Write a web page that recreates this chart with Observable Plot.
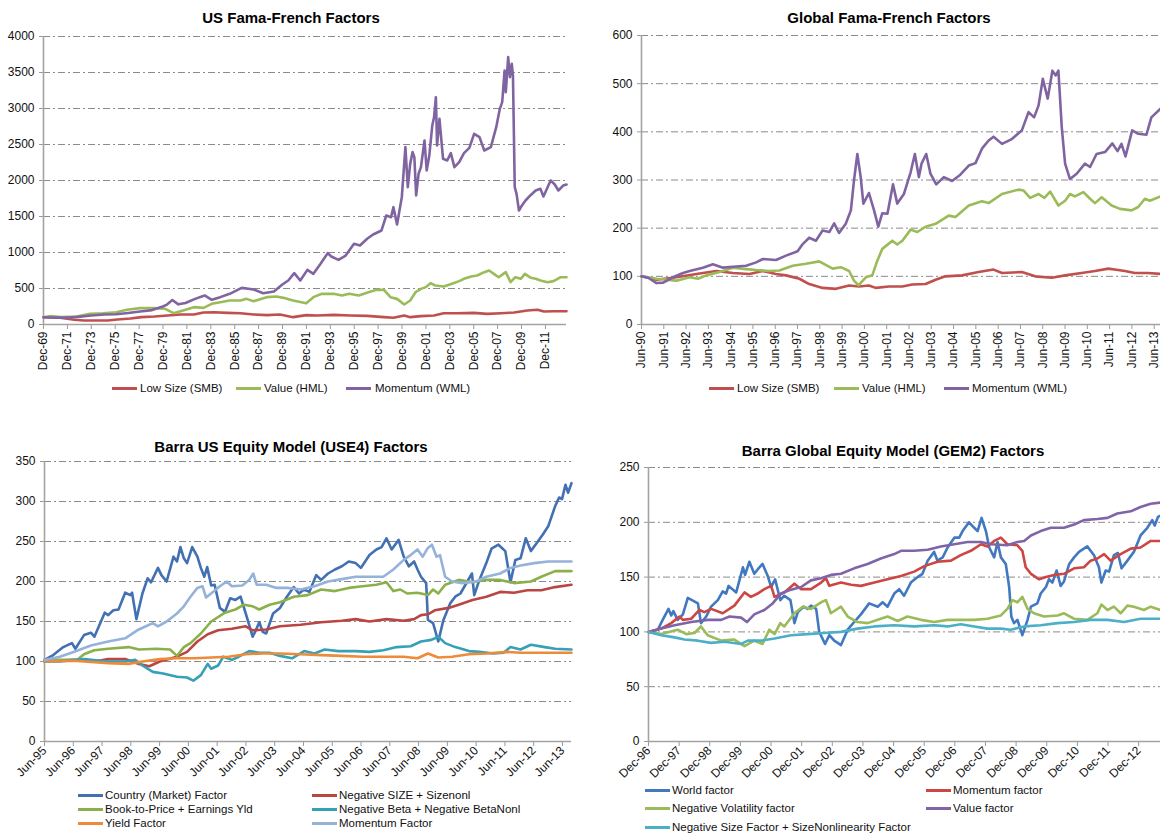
<!DOCTYPE html>
<html><head><meta charset="utf-8">
<script src="https://cdn.jsdelivr.net/npm/d3@7"></script>
<script src="https://cdn.jsdelivr.net/npm/@observablehq/plot@0.6"></script>
<style>
body{margin:0;background:#fff;font-family:"Liberation Sans",Arial,sans-serif;}
#root{position:relative;width:1160px;height:833px;overflow:hidden;background:#fff;}
.title{position:absolute;font-weight:bold;font-size:15px;color:#000;white-space:nowrap;transform:translate(-50%,-50%);}
.legtext{position:absolute;font-size:11.5px;line-height:14px;color:#111;white-space:nowrap;}
.sw{position:absolute;height:3px;}
.plot{position:absolute;}
</style></head><body><div id="root"></div>
<script>
// ---------------- DATA ----------------
// Panel 1: US Fama-French Factors  [decimal year, index]
const usTitle = "US Fama-French Factors";
const usYTicks = [0,500,1000,1500,2000,2500,3000,3500,4000];
const usXLabels = ["Dec-69","Dec-71","Dec-73","Dec-75","Dec-77","Dec-79","Dec-81","Dec-83","Dec-85","Dec-87","Dec-89","Dec-91","Dec-93","Dec-95","Dec-97","Dec-99","Dec-01","Dec-03","Dec-05","Dec-07","Dec-09","Dec-11"];
const usSeriesNames = ["Low Size (SMB)","Value (HML)","Momentum (WML)"];
const usSMB = [[1969.92,100],[1971.3,93],[1972.5,65],[1973.3,56],[1974.2,56],[1975.3,56],[1976.1,69],[1977.2,83],[1978.1,102],[1979.2,111],[1980.3,125],[1981.4,139],[1982.5,139],[1983.3,167],[1984.2,171],[1985.3,162],[1986.4,157],[1987.5,139],[1988.6,130],[1989.7,139],[1990.8,102],[1991.9,130],[1992.8,125],[1994.2,134],[1995.6,125],[1997.0,120],[1998.4,102],[1999.2,93],[2000.1,125],[2000.6,102],[2001.5,116],[2002.6,125],[2003.4,157],[2004.5,157],[2005.9,162],[2007.05,148],[2008.2,157],[2009.3,167],[2010.4,194],[2011.25,204],[2011.8,181],[2012.6,185],[2013.68,185]];
const usHML = [[1969.92,100],[1970.5,118],[1971.4,105],[1972.7,111],[1973.8,148],[1974.9,157],[1976.0,171],[1976.9,204],[1978.0,227],[1979.1,227],[1980.1,218],[1980.8,157],[1981.6,194],[1982.5,241],[1983.3,231],[1984.0,287],[1984.7,310],[1985.5,333],[1986.4,333],[1986.9,356],[1987.5,324],[1988.6,380],[1989.4,389],[1990.0,370],[1990.8,333],[1991.9,296],[1992.5,380],[1993.2,426],[1994.2,426],[1994.9,403],[1995.5,426],[1996.3,403],[1997.1,449],[1997.8,481],[1998.4,481],[1998.95,380],[1999.5,356],[2000.1,278],[2000.6,333],[2001.05,449],[2001.5,495],[2001.9,519],[2002.3,574],[2002.7,542],[2003.4,528],[2004.1,565],[2004.7,602],[2005.1,634],[2005.7,667],[2006.2,681],[2006.8,727],[2007.2,750],[2007.6,704],[2008.0,657],[2008.6,727],[2009.0,588],[2009.4,657],[2009.85,634],[2010.2,704],[2010.7,648],[2011.1,634],[2011.5,611],[2012.1,588],[2012.6,602],[2013.2,657],[2013.68,657]];
const usWML = [[1969.92,100],[1971.0,95],[1972.0,96],[1973.0,110],[1973.9,125],[1975.0,138],[1976.0,142],[1977.0,160],[1978.0,180],[1979.0,200],[1979.9,250],[1980.2,272],[1980.7,340],[1981.2,280],[1981.8,298],[1982.6,356],[1983.4,403],[1984.0,343],[1984.7,380],[1985.5,426],[1986.5,509],[1987.5,486],[1988.3,435],[1989.2,458],[1989.9,556],[1990.4,611],[1990.9,713],[1991.4,611],[1992.0,759],[1992.5,704],[1993.1,843],[1993.7,991],[1994.0,944],[1994.6,898],[1995.2,958],[1995.9,1120],[1996.4,1097],[1997.0,1190],[1997.5,1250],[1998.2,1306],[1998.6,1514],[1999.0,1491],[1999.2,1630],[1999.5,1389],[1999.9,1769],[2000.2,2463],[2000.4,1907],[2000.6,2231],[2000.8,2394],[2000.95,2324],[2001.1,1792],[2001.3,2093],[2001.5,2185],[2001.8,2556],[2001.98,2139],[2002.2,2347],[2002.45,2764],[2002.6,2880],[2002.75,3157],[2002.85,2486],[2003.05,2856],[2003.35,2301],[2003.7,2278],[2004.0,2380],[2004.3,2185],[2004.7,2255],[2005.1,2380],[2005.55,2454],[2005.95,2648],[2006.4,2602],[2006.8,2417],[2007.35,2463],[2007.8,2741],[2008.1,2995],[2008.3,3088],[2008.5,3528],[2008.6,3227],[2008.8,3713],[2008.95,3435],[2009.1,3620],[2009.2,3458],[2009.35,1907],[2009.5,1815],[2009.7,1583],[2009.95,1653],[2010.25,1722],[2010.65,1792],[2011.1,1861],[2011.5,1884],[2011.75,1778],[2012.1,1907],[2012.35,2000],[2012.7,1944],[2013.0,1861],[2013.4,1930],[2013.68,1944]];

// Panel 2: Global Fama-French Factors
const glTitle = "Global Fama-French Factors";
const glYTicks = [0,100,200,300,400,500,600];
const glXLabels = ["Jun-90","Jun-91","Jun-92","Jun-93","Jun-94","Jun-95","Jun-96","Jun-97","Jun-98","Jun-99","Jun-00","Jun-01","Jun-02","Jun-03","Jun-04","Jun-05","Jun-06","Jun-07","Jun-08","Jun-09","Jun-10","Jun-11","Jun-12","Jun-13"];
const glSeriesNames = ["Low Size (SMB)","Value (HML)","Momentum (WML)"];
const glSMB = [[1990.42,100],[1991.09,93],[1991.98,98],[1992.88,105],[1993.77,111],[1994.52,107],[1995.26,105],[1995.86,111],[1996.45,105],[1996.9,102],[1997.5,95],[1997.94,84],[1998.54,76],[1999.14,74],[1999.73,81],[2000.18,79],[2000.62,81],[2000.92,76],[2001.52,79],[2002.12,79],[2002.56,83],[2003.16,84],[2003.61,93],[2004.05,100],[2004.8,102],[2005.54,109],[2006.21,114],[2006.59,107],[2007.48,109],[2008.08,100],[2008.82,97],[2009.42,102],[2010.16,107],[2010.76,111],[2011.36,116],[2011.8,113],[2012.1,111],[2012.55,107],[2013.14,107],[2013.70,105]];
const glHML = [[1990.42,100],[1991.09,95],[1991.98,91],[1992.58,98],[1992.95,95],[1993.32,102],[1993.92,109],[1994.52,118],[1995.11,115],[1995.56,113],[1996.15,111],[1996.6,112],[1997.2,122],[1997.79,126],[1998.39,131],[1998.99,116],[1999.36,119],[1999.73,111],[1999.95,91],[2000.15,81],[2000.48,98],[2000.77,102],[2001.0,133],[2001.22,157],[2001.67,174],[2001.89,166],[2002.12,174],[2002.49,197],[2002.79,192],[2003.16,203],[2003.61,209],[2004.2,226],[2004.5,223],[2005.1,247],[2005.69,256],[2005.99,252],[2006.59,271],[2007.33,280],[2007.56,278],[2007.85,263],[2008.23,271],[2008.49,263],[2008.75,276],[2009.12,247],[2009.42,257],[2009.64,271],[2009.86,266],[2010.24,275],[2010.54,261],[2010.76,252],[2011.06,264],[2011.51,247],[2011.88,240],[2012.4,237],[2012.7,244],[2013.0,261],[2013.22,257],[2013.70,266]];
const glWML = [[1990.42,100],[1990.72,97],[1991.09,86],[1991.39,87],[1991.83,98],[1992.28,107],[1992.58,111],[1993.17,118],[1993.62,125],[1994.07,118],[1994.52,120],[1995.11,122],[1995.56,129],[1995.86,136],[1996.45,134],[1996.9,143],[1997.42,152],[1997.65,167],[1997.94,180],[1998.24,174],[1998.54,195],[1998.84,192],[1999.06,210],[1999.28,190],[1999.58,209],[1999.81,237],[1999.95,299],[2000.1,354],[2000.25,306],[2000.37,251],[2000.62,273],[2000.85,237],[2001.04,203],[2001.22,231],[2001.45,230],[2001.7,291],[2001.89,251],[2002.19,271],[2002.49,316],[2002.68,354],[2002.86,306],[2002.98,334],[2003.19,354],[2003.38,313],[2003.64,291],[2003.98,306],[2004.35,298],[2004.72,311],[2005.1,330],[2005.4,335],[2005.69,365],[2005.99,382],[2006.21,390],[2006.59,375],[2007.03,385],[2007.48,403],[2007.78,441],[2008.03,430],[2008.23,455],[2008.42,510],[2008.64,469],[2008.85,527],[2009.0,517],[2009.12,527],[2009.27,410],[2009.42,334],[2009.64,302],[2009.94,313],[2010.31,334],[2010.54,327],[2010.83,354],[2011.21,358],[2011.54,376],[2011.77,360],[2011.95,375],[2012.13,349],[2012.43,403],[2012.7,396],[2013.07,394],[2013.29,430],[2013.70,448]];

// Panel 3: Barra US Equity Model (USE4) Factors
const bUsTitle = "Barra US Equity Model (USE4) Factors";
const bUsYTicks = [0,50,100,150,200,250,300,350];
const bUsXLabels = ["Jun-95","Jun-96","Jun-97","Jun-98","Jun-99","Jun-00","Jun-01","Jun-02","Jun-03","Jun-04","Jun-05","Jun-06","Jun-07","Jun-08","Jun-09","Jun-10","Jun-11","Jun-12","Jun-13"];
const bUsSeriesNames = ["Country (Market) Factor","Negative SIZE + Sizenonl","Book-to-Price + Earnings Yld","Negative Beta + Negative  BetaNonl","Yield Factor","Momentum Factor"];
const bUsCountry = [[1995.42,102],[1995.72,108],[1996.07,118],[1996.37,123],[1996.49,116],[1996.79,133],[1997.03,136],[1997.15,131],[1997.51,161],[1997.63,158],[1997.81,164],[1997.99,165],[1998.22,186],[1998.40,183],[1998.46,186],[1998.61,153],[1998.82,185],[1999.0,204],[1999.12,199],[1999.36,217],[1999.48,208],[1999.66,200],[1999.90,231],[2000.02,225],[2000.14,243],[2000.26,229],[2000.37,223],[2000.55,243],[2000.73,231],[2000.85,217],[2000.97,206],[2001.07,218],[2001.21,195],[2001.33,196],[2001.51,167],[2001.69,162],[2001.87,179],[2002.05,177],[2002.23,181],[2002.41,160],[2002.65,131],[2002.76,139],[2002.88,149],[2003.0,137],[2003.12,135],[2003.36,160],[2003.60,167],[2003.84,181],[2004.08,193],[2004.26,185],[2004.44,190],[2004.62,187],[2004.86,208],[2005.03,202],[2005.27,210],[2005.51,215],[2005.75,219],[2005.99,225],[2006.23,223],[2006.41,217],[2006.71,233],[2006.95,240],[2007.13,243],[2007.30,254],[2007.48,240],[2007.72,252],[2007.90,231],[2008.08,219],[2008.26,225],[2008.38,215],[2008.50,206],[2008.68,198],[2008.74,152],[2008.92,148],[2009.10,125],[2009.28,152],[2009.52,173],[2009.69,181],[2009.87,185],[2010.11,200],[2010.27,210],[2010.35,183],[2010.53,202],[2010.77,223],[2010.95,241],[2011.19,246],[2011.43,238],[2011.61,199],[2011.78,227],[2011.96,229],[2012.14,254],[2012.32,238],[2012.56,250],[2012.74,259],[2012.92,269],[2013.16,294],[2013.30,305],[2013.40,303],[2013.52,321],[2013.61,311],[2013.73,323]];
const bUsSize = [[1995.42,100],[1996.43,102],[1997.15,100],[1997.63,103],[1998.22,103],[1998.70,97],[1999.06,94],[1999.42,100],[2000.02,106],[2000.37,112],[2000.73,125],[2001.09,134],[2001.45,139],[2001.93,141],[2002.41,144],[2002.65,139],[2003.12,140],[2003.60,144],[2004.32,146],[2005.03,149],[2005.75,151],[2006.23,153],[2006.71,150],[2007.30,153],[2007.90,151],[2008.26,153],[2008.50,158],[2008.74,159],[2008.98,164],[2009.46,167],[2009.81,171],[2010.29,177],[2010.77,181],[2011.25,187],[2011.73,186],[2012.20,189],[2012.68,189],[2013.16,193],[2013.73,196]];
const bUsValue = [[1995.42,102],[1995.95,102],[1996.55,102],[1996.79,109],[1997.15,114],[1997.63,116],[1998.34,118],[1998.70,115],[1999.30,116],[1999.78,115],[2000.02,107],[2000.26,118],[2000.49,123],[2000.85,135],[2001.21,150],[2001.69,161],[2002.05,165],[2002.35,171],[2002.65,169],[2002.88,165],[2003.24,171],[2003.60,174],[2004.08,181],[2004.56,183],[2005.03,190],[2005.51,188],[2005.99,192],[2006.47,194],[2006.95,196],[2007.30,199],[2007.54,188],[2007.78,190],[2008.02,185],[2008.38,186],[2008.74,183],[2008.92,190],[2009.10,185],[2009.34,196],[2009.81,202],[2010.29,199],[2010.77,202],[2011.25,202],[2011.73,198],[2012.32,200],[2012.68,206],[2013.16,213],[2013.73,213]];
const bUsBeta = [[1995.42,100],[1995.95,100],[1996.79,103],[1997.63,100],[1998.22,100],[1998.58,102],[1998.82,95],[1999.18,87],[1999.54,85],[2000.02,81],[2000.37,80],[2000.59,76],[2000.85,83],[2001.09,97],[2001.21,91],[2001.45,95],[2001.63,106],[2001.93,102],[2002.17,106],[2002.53,113],[2002.88,111],[2003.24,111],[2003.60,107],[2004.02,104],[2004.44,113],[2004.80,110],[2005.15,115],[2005.63,113],[2006.23,113],[2006.71,112],[2007.19,114],[2007.66,118],[2008.14,119],[2008.50,125],[2008.86,127],[2009.10,131],[2009.34,123],[2009.69,118],[2010.17,113],[2010.53,112],[2011.01,110],[2011.37,111],[2011.61,118],[2011.96,115],[2012.32,121],[2012.80,118],[2013.16,116],[2013.73,115]];
const bUsYield = [[1995.42,100],[1996.43,101],[1997.63,98],[1998.34,97],[1998.82,100],[1999.42,103],[2000.02,104],[2000.61,104],[2001.21,105],[2001.81,106],[2002.41,109],[2003.0,110],[2003.60,110],[2004.32,109],[2005.03,108],[2005.75,107],[2006.47,106],[2007.19,106],[2007.90,106],[2008.38,104],[2008.74,110],[2009.10,105],[2009.58,106],[2010.17,109],[2010.77,110],[2011.49,112],[2011.96,111],[2012.56,111],[2013.73,111]];
const bUsMomentum = [[1995.42,102],[1995.95,106],[1996.43,112],[1997.03,120],[1997.63,125],[1998.22,129],[1998.64,139],[1998.94,144],[1999.18,148],[1999.36,144],[1999.66,150],[2000.02,160],[2000.26,169],[2000.49,181],[2000.73,192],[2000.91,194],[2001.03,180],[2001.27,187],[2001.51,194],[2001.75,200],[2001.93,194],[2002.29,195],[2002.53,202],[2002.67,210],[2002.79,196],[2003.12,196],[2003.48,192],[2003.84,192],[2004.32,190],[2004.80,194],[2005.27,200],[2005.75,203],[2006.23,206],[2006.71,206],[2007.19,206],[2007.54,215],[2007.90,227],[2008.14,233],[2008.38,240],[2008.56,231],[2008.74,242],[2008.88,246],[2009.04,231],[2009.16,233],[2009.34,206],[2009.58,200],[2009.93,198],[2010.41,200],[2010.77,206],[2011.25,210],[2011.61,217],[2011.96,220],[2012.44,223],[2012.92,225],[2013.28,225],[2013.73,225]];

// Panel 4: Barra Global Equity Model (GEM2) Factors
const bGlTitle = "Barra Global Equity Model (GEM2) Factors";
const bGlYTicks = [0,50,100,150,200,250];
const bGlXLabels = ["Dec-96","Dec-97","Dec-98","Dec-99","Dec-00","Dec-01","Dec-02","Dec-03","Dec-04","Dec-05","Dec-06","Dec-07","Dec-08","Dec-09","Dec-10","Dec-11","Dec-12"];
const bGlSeriesNames = ["World factor","Momentum factor","Negative Volatility  factor","Value factor","Negative Size Factor + SizeNonlinearity Factor"];
const bGlWorld = [[1996.92,100],[1997.22,102],[1997.38,111],[1997.57,121],[1997.66,115],[1997.73,119],[1997.87,111],[1998.04,116],[1998.20,131],[1998.53,126],[1998.63,108],[1998.80,114],[1998.96,123],[1999.18,129],[1999.34,137],[1999.45,135],[1999.53,142],[1999.78,136],[2000.0,159],[2000.07,152],[2000.21,164],[2000.37,153],[2000.48,157],[2000.64,162],[2000.81,151],[2000.92,141],[2001.05,148],[2001.22,129],[2001.35,133],[2001.55,129],[2001.68,108],[2001.79,118],[2001.98,123],[2002.11,121],[2002.22,124],[2002.39,121],[2002.49,100],[2002.68,89],[2002.82,97],[2002.98,92],[2003.20,88],[2003.42,102],[2003.63,109],[2003.85,116],[2004.12,126],[2004.40,123],[2004.56,127],[2004.72,123],[2004.94,135],[2005.10,139],[2005.26,133],[2005.48,145],[2005.70,150],[2005.86,153],[2006.03,165],[2006.24,173],[2006.35,165],[2006.52,168],[2006.68,177],[2006.90,186],[2007.06,186],[2007.17,192],[2007.38,200],[2007.55,195],[2007.66,192],[2007.79,204],[2007.93,192],[2008.04,177],[2008.20,168],[2008.31,182],[2008.42,168],[2008.58,162],[2008.69,141],[2008.76,114],[2008.85,108],[2008.96,111],[2009.12,97],[2009.29,111],[2009.40,123],[2009.61,126],[2009.72,135],[2009.89,141],[2009.99,148],[2010.10,145],[2010.24,156],[2010.37,142],[2010.48,146],[2010.65,162],[2010.81,168],[2010.97,173],[2011.24,178],[2011.46,170],[2011.62,159],[2011.70,145],[2011.84,156],[2011.95,155],[2012.11,170],[2012.24,172],[2012.36,158],[2012.55,165],[2012.76,173],[2012.98,188],[2013.20,195],[2013.36,202],[2013.44,197],[2013.55,205],[2013.63,206]];
const bGlMomentum = [[1996.92,100],[1997.33,103],[1997.66,108],[1997.93,114],[1998.04,111],[1998.31,112],[1998.58,120],[1998.74,118],[1998.96,121],[1999.34,117],[1999.72,124],[2000.05,136],[2000.26,132],[2000.48,135],[2000.70,139],[2000.92,142],[2001.03,132],[2001.35,136],[2001.68,144],[2001.90,139],[2002.22,139],[2002.55,145],[2002.71,149],[2002.82,142],[2003.20,145],[2003.53,143],[2003.85,142],[2004.29,145],[2004.72,148],[2005.16,151],[2005.59,155],[2005.92,160],[2006.35,164],[2006.79,165],[2007.11,170],[2007.44,174],[2007.77,180],[2007.98,178],[2008.20,183],[2008.42,186],[2008.63,180],[2008.96,179],[2009.12,174],[2009.23,159],[2009.40,153],[2009.67,148],[2009.89,150],[2010.16,152],[2010.48,153],[2010.81,158],[2011.13,159],[2011.35,165],[2011.57,167],[2011.79,171],[2012.0,165],[2012.33,171],[2012.66,176],[2012.98,177],[2013.31,183],[2013.63,183]];
const bGlVol = [[1996.92,100],[1997.33,98],[1997.87,102],[1998.15,98],[1998.42,99],[1998.63,105],[1998.85,97],[1999.29,92],[1999.72,93],[2000.05,87],[2000.37,92],[2000.64,89],[2000.86,102],[2001.03,98],[2001.22,108],[2001.35,105],[2001.68,117],[2001.95,123],[2002.22,121],[2002.55,127],[2002.71,129],[2002.87,117],[2003.20,123],[2003.42,114],[2003.74,109],[2004.07,108],[2004.40,111],[2004.72,114],[2005.05,110],[2005.37,114],[2005.81,111],[2006.24,109],[2006.68,111],[2007.11,111],[2007.55,111],[2007.98,112],[2008.42,115],[2008.63,121],[2008.80,129],[2008.96,127],[2009.12,132],[2009.29,121],[2009.50,117],[2009.83,114],[2010.27,115],[2010.48,117],[2010.81,112],[2011.24,111],[2011.57,117],[2011.70,125],[2011.90,120],[2012.11,123],[2012.33,117],[2012.55,124],[2012.76,123],[2013.09,120],[2013.31,123],[2013.63,120]];
const bGlValue = [[1996.92,100],[1997.33,103],[1997.77,106],[1998.31,109],[1998.85,111],[1999.29,111],[1999.56,114],[1999.94,113],[2000.13,109],[2000.37,116],[2000.70,120],[2000.97,126],[2001.24,135],[2001.51,138],[2001.90,141],[2002.22,147],[2002.55,149],[2002.87,152],[2003.20,153],[2003.63,158],[2004.07,162],[2004.50,167],[2004.94,171],[2005.16,174],[2005.59,174],[2006.03,175],[2006.46,178],[2006.90,180],[2007.33,182],[2007.77,182],[2008.09,180],[2008.63,179],[2008.96,182],[2009.18,183],[2009.40,188],[2009.72,192],[2010.05,195],[2010.48,195],[2010.81,198],[2011.13,202],[2011.57,203],[2011.90,204],[2012.22,208],[2012.66,210],[2012.98,214],[2013.31,217],[2013.63,218]];
const bGlSize = [[1996.92,100],[1997.33,97],[1997.77,95],[1998.09,93],[1998.53,92],[1998.96,90],[1999.40,91],[1999.94,89],[2000.16,92],[2000.59,92],[2001.03,94],[2001.57,97],[2002.11,98],[2002.66,99],[2003.20,100],[2003.74,103],[2004.29,105],[2004.94,106],[2005.59,105],[2006.24,106],[2006.68,105],[2007.11,107],[2007.55,105],[2007.98,103],[2008.42,103],[2008.74,102],[2009.18,105],[2009.72,106],[2010.27,108],[2010.81,109],[2011.35,111],[2011.90,111],[2012.44,109],[2012.98,112],[2013.63,112]];

// ---------------- DRAWING ----------------
const FONT = '"Liberation Sans", Arial, sans-serif';
const months = ["Jan","Feb","Mar","Apr","May","Jun","Jul","Aug","Sep","Oct","Nov","Dec"];
const labelToYear = s => { const m = months.indexOf(s.slice(0,3)); const yy = +s.slice(4); return (yy > 50 ? 1900 + yy : 2000 + yy) + m / 12; };
const root = document.getElementById("root");

function addTitle(text, cx, cy) {
  const d = document.createElement("div");
  d.className = "title"; d.textContent = text;
  d.style.left = cx + "px"; d.style.top = cy + "px";
  root.appendChild(d);
}
function addLegend(items) {
  for (const it of items) {
    const s = document.createElement("div");
    s.className = "sw"; s.style.left = it.sx + "px"; s.style.top = (it.y - 1.5) + "px";
    s.style.width = (it.sw || 25) + "px"; s.style.background = it.color;
    root.appendChild(s);
    const t = document.createElement("div");
    t.className = "legtext"; t.textContent = it.label;
    t.style.left = it.tx + "px"; t.style.top = (it.y - 7.5) + "px";
    root.appendChild(t);
  }
}
function addPanel(cfg) {
  const ticks = cfg.xLabels.map(labelToYear);
  const ymax = cfg.yTicks[cfg.yTicks.length - 1];
  const chart = Plot.plot({
    width: cfg.width, height: cfg.height,
    marginLeft: cfg.ml, marginRight: cfg.mr, marginTop: cfg.mt, marginBottom: cfg.mb,
    x: {type: "linear", domain: cfg.xDomain},
    y: {type: "linear", domain: [0, ymax]},
    style: {fontFamily: FONT, fontSize: "12px", color: "#111", background: "transparent", overflow: "visible"},
    marks: [
      Plot.ruleY(cfg.yTicks.filter(v => v > 0), {stroke: "#8a8a8a", strokeWidth: 1, strokeDasharray: "7,3,2,3"}),
      Plot.axisY(cfg.yTicks, {tickSize: 4, tickPadding: 5, stroke: "#9a9a9a", fill: "#111", tickFormat: d => String(d)}),
      Plot.axisX(ticks, {tickSize: 5, tickPadding: 2, tickRotate: cfg.rotate, stroke: "#9a9a9a", fill: "#111", tickFormat: (d, i) => cfg.xLabels[i]}),
      Plot.ruleX([cfg.xDomain[0]], {stroke: "#a3a3a3", strokeWidth: 1.6}),
      Plot.ruleY([0], {stroke: "#a3a3a3", strokeWidth: 1.6}),
      ...cfg.series.map(s => Plot.line(s.data, {x: d => d[0], y: d => d[1], stroke: s.color, strokeWidth: 2.6, strokeLinejoin: "round", strokeLinecap: "round"}))
    ]
  });
  const wrap = document.createElement("div");
  wrap.className = "plot"; wrap.style.left = cfg.left + "px"; wrap.style.top = cfg.top + "px";
  wrap.appendChild(chart);
  root.appendChild(wrap);
}

// colours
const cRed = "#C0504D", cGreen = "#9BBB59", cPurple = "#8064A2";

// Panel 1
addTitle(usTitle, 291, 17);
addPanel({left: 0, top: 26, width: 580, height: 360, ml: 43, mr: 14, mt: 10, mb: 62,
  xDomain: [1969.917, 2013.68], yTicks: usYTicks, xLabels: usXLabels, rotate: -90,
  series: [{data: usSMB, color: cRed}, {data: usHML, color: cGreen}, {data: usWML, color: cPurple}]});
addLegend([
  {label: usSeriesNames[0], color: cRed, sx: 112, tx: 140, y: 388},
  {label: usSeriesNames[1], color: cGreen, sx: 236, tx: 264, y: 388},
  {label: usSeriesNames[2], color: cPurple, sx: 346, tx: 375, y: 388}
]);

// Panel 2
addTitle(glTitle, 889, 17);
addPanel({left: 580, top: 26, width: 580, height: 360, ml: 61, mr: 0, mt: 9, mb: 62,
  xDomain: [1990.417, 2013.70], yTicks: glYTicks, xLabels: glXLabels, rotate: -90,
  series: [{data: glSMB, color: cRed}, {data: glHML, color: cGreen}, {data: glWML, color: cPurple}]});
addLegend([
  {label: glSeriesNames[0], color: cRed, sx: 709, tx: 737, y: 388},
  {label: glSeriesNames[1], color: cGreen, sx: 834, tx: 862, y: 388},
  {label: glSeriesNames[2], color: cPurple, sx: 944, tx: 972, y: 388}
]);

// Panel 3
const p3Colors = ["#4270B2", "#BA4542", "#8AB04A", "#35A0B6", "#EE8B3A", "#95B2DA"];
addTitle(bUsTitle, 291, 446);
addPanel({left: 0, top: 455, width: 580, height: 330, ml: 44, mr: 9, mt: 6, mb: 44,
  xDomain: [1995.417, 2013.73], yTicks: bUsYTicks, xLabels: bUsXLabels, rotate: -45,
  series: [bUsCountry, bUsSize, bUsValue, bUsBeta, bUsYield, bUsMomentum].map((d, i) => ({data: d, color: p3Colors[i]}))});
addLegend([
  {label: bUsSeriesNames[0], color: p3Colors[0], sx: 78, tx: 105, y: 795},
  {label: bUsSeriesNames[1], color: p3Colors[1], sx: 312, tx: 339, y: 795},
  {label: bUsSeriesNames[2], color: p3Colors[2], sx: 78, tx: 105, y: 809},
  {label: bUsSeriesNames[3], color: p3Colors[3], sx: 312, tx: 339, y: 809},
  {label: bUsSeriesNames[4], color: p3Colors[4], sx: 78, tx: 105, y: 823},
  {label: bUsSeriesNames[5], color: p3Colors[5], sx: 312, tx: 339, y: 823}
]);

// Panel 4
const p4Colors = ["#4178C0", "#CC4644", "#9BBB59", "#8064A8", "#4BAFC8"];
addTitle(bGlTitle, 893, 450);
addPanel({left: 580, top: 455, width: 580, height: 330, ml: 68, mr: 0, mt: 12, mb: 44,
  xDomain: [1996.917, 2013.63], yTicks: bGlYTicks, xLabels: bGlXLabels, rotate: -45,
  series: [bGlWorld, bGlMomentum, bGlVol, bGlValue, bGlSize].map((d, i) => ({data: d, color: p4Colors[i]}))});
addLegend([
  {label: bGlSeriesNames[0], color: p4Colors[0], sx: 645, tx: 672, y: 790},
  {label: bGlSeriesNames[1], color: p4Colors[1], sx: 926, tx: 953, y: 790},
  {label: bGlSeriesNames[2], color: p4Colors[2], sx: 645, tx: 672, y: 808},
  {label: bGlSeriesNames[3], color: p4Colors[3], sx: 926, tx: 953, y: 808},
  {label: bGlSeriesNames[4], color: p4Colors[4], sx: 645, tx: 672, y: 827}
]);
</script></body></html>
